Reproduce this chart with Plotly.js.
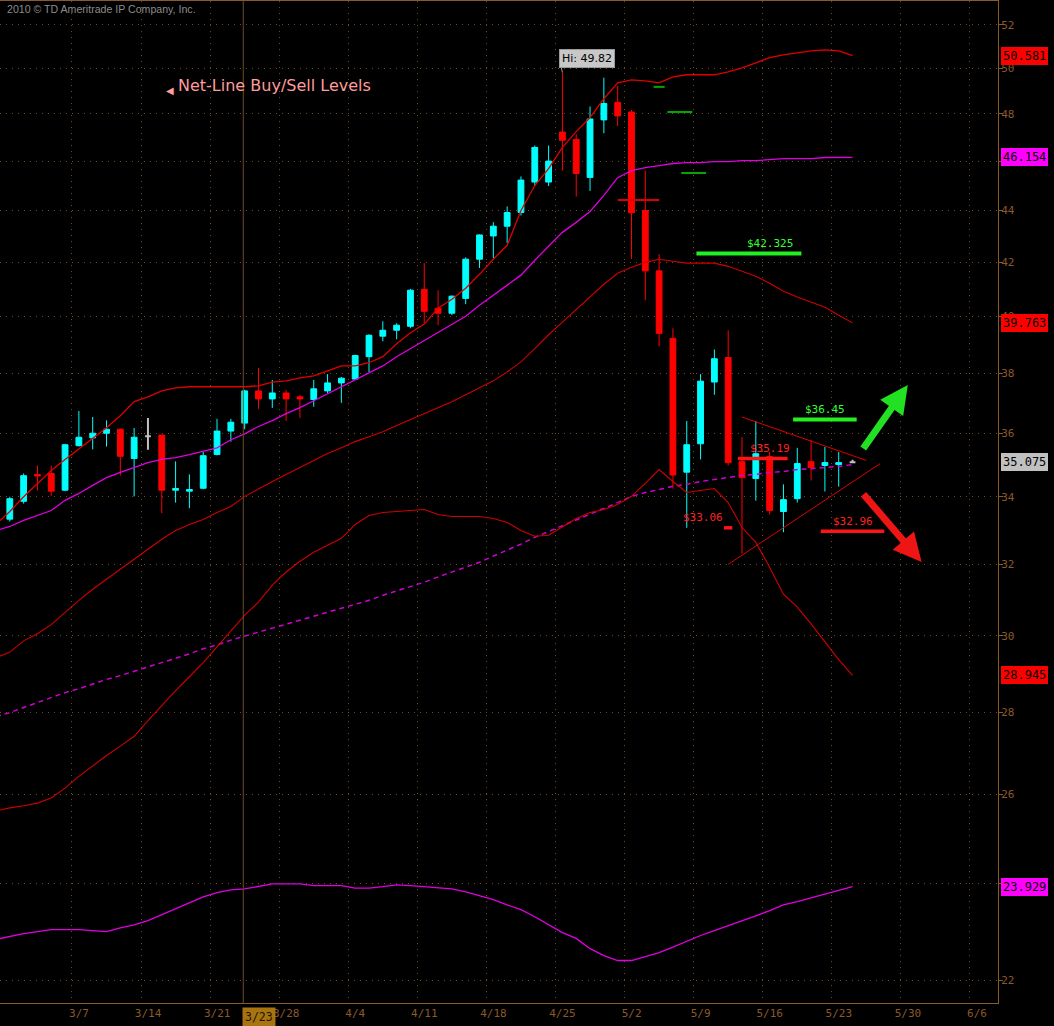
<!DOCTYPE html>
<html><head><meta charset="utf-8">
<script src="https://cdn.plot.ly/plotly-3.0.1.min.js"></script>
<style>html,body{margin:0;padding:0;background:#000;}#chart{width:1054px;height:1026px;}</style>
</head><body><div id="chart"></div>
<script>
// ---------- data ----------
const dates = ['2011-02-28','2011-03-01','2011-03-02','2011-03-03','2011-03-04',
'2011-03-07','2011-03-08','2011-03-09','2011-03-10','2011-03-11',
'2011-03-14','2011-03-15','2011-03-16','2011-03-17','2011-03-18',
'2011-03-21','2011-03-22','2011-03-23','2011-03-24','2011-03-25',
'2011-03-28','2011-03-29','2011-03-30','2011-03-31','2011-04-01',
'2011-04-04','2011-04-05','2011-04-06','2011-04-07','2011-04-08',
'2011-04-11','2011-04-12','2011-04-13','2011-04-14','2011-04-15',
'2011-04-18','2011-04-19','2011-04-20','2011-04-21','2011-04-22',
'2011-04-25','2011-04-26','2011-04-27','2011-04-28','2011-04-29',
'2011-05-02','2011-05-03','2011-05-04','2011-05-05','2011-05-06',
'2011-05-09','2011-05-10','2011-05-11','2011-05-12','2011-05-13',
'2011-05-16','2011-05-17','2011-05-18','2011-05-19','2011-05-20',
'2011-05-23','2011-05-24'];
const open = [33.32,33.86,34.69,34.72,34.2, 35.6,35.85,36.0,36.13,35.19, 35.9,35.94,34.2,34.17,34.26,
35.32,36.07,36.33,37.4,37.13, 37.33,37.2,37.11,37.4,37.67, 37.8,38.57,39.29,39.5,39.64,
40.98,40.29,40.11,40.65,42.11, 43.0,43.38,43.92,45.14,45.14, 47.22,46.91,45.33,47.74,48.5,
48.08,44.0,41.67,39.21,34.76, 35.66,37.7,38.54,35.09,34.56, 35.25,33.55,33.94,35.09,34.97,
35.0,35.075];
const high = [34.0,34.72,34.97,34.97,35.66, 36.73,36.53,36.42,36.15,36.17, 36.5,35.95,35.1,34.69,35.4,
36.47,36.47,37.44,38.18,37.77, 37.43,37.27,37.77,37.97,37.87, 38.64,39.36,39.82,39.75,41.0,
41.96,40.95,40.76,42.18,43.06, 43.54,44.16,45.37,46.65,46.65, 49.82,47.13,48.32,49.59,49.23,
48.17,45.6,42.3,39.57,36.4, 37.97,38.82,39.5,35.87,36.4, 35.4,34.38,35.53,35.78,35.56,
35.4,35.15];
const low = [33.25,33.79,34.19,34.03,34.17, 35.57,35.48,35.57,34.65,34.01, 35.47,33.5,33.82,33.65,34.23,
35.29,35.73,36.13,36.8,36.83, 36.4,36.5,36.87,37.33,37.0, 37.77,38.04,39.11,39.18,39.57,
39.75,39.68,40.04,40.44,41.78, 42.15,42.73,43.8,44.98,44.98, 45.6,44.55,44.78,47.17,47.48,
42.12,40.58,38.93,34.25,33.06, 35.16,37.27,34.97,32.3,33.88, 33.46,32.93,33.82,34.5,34.16,
34.31,35.075];
const close = [33.94,34.65,34.64,34.17,35.63, 35.87,36.0,36.13,35.26,35.87, 35.9,34.2,34.25,34.22,35.28,
36.07,36.36,37.4,37.13,37.33, 37.13,37.13,37.47,37.67,37.83, 38.61,39.32,39.5,39.68,40.95,
40.18,40.11,40.73,42.11,43.04, 43.38,43.92,45.22,46.57,46.0, 46.87,45.49,47.78,48.45,47.91,
43.91,41.67,39.39,34.67,35.63, 37.73,38.5,35.06,34.59,35.34, 33.58,33.91,35.03,34.91,35.06,
35.06,35.075];

// indicator lines: one value per day from 2011-02-25 to 2011-05-24
const lineDates = ['2011-02-25'].concat(dates);
const upperBand = [33.16,33.55,34.0,34.41,34.81,35.16,35.5,35.82,36.18,36.57,37.04,37.2,37.4,37.5,37.54,37.54,37.54,37.54,37.54,37.57,37.7,37.74,37.84,37.91,38.08,38.25,38.25,38.36,38.57,39.02,39.41,39.72,40.29,40.62,41.02,41.54,42.11,42.64,44.0,45.0,45.69,46.57,47.24,47.84,48.66,49.36,49.49,49.45,49.36,49.63,49.72,49.72,49.72,49.85,50.03,50.26,50.49,50.62,50.71,50.8,50.85,50.8,50.581];
const midAvg = [32.98,33.1,33.28,33.43,33.58,33.89,34.1,34.35,34.59,34.75,34.9,35.06,35.16,35.22,35.31,35.41,35.53,35.79,35.98,36.22,36.41,36.64,36.84,37.07,37.3,37.54,37.77,38.0,38.25,38.57,38.85,39.13,39.41,39.69,40.0,40.4,40.77,41.14,41.51,42.07,42.6,43.14,43.53,43.96,44.6,45.32,45.61,45.73,45.81,45.9,45.94,45.94,45.98,45.98,46.02,46.02,46.06,46.1,46.1,46.1,46.15,46.15,46.154];
const lowerBand1 = [29.41,29.56,29.86,30.05,30.3,30.64,30.97,31.28,31.57,31.85,32.14,32.43,32.72,32.98,33.16,33.31,33.52,33.7,34.01,34.25,34.47,34.69,34.91,35.13,35.35,35.53,35.73,35.89,36.05,36.25,36.44,36.64,36.84,37.04,37.27,37.5,37.74,38.04,38.39,38.85,39.34,39.79,40.25,40.73,41.17,41.58,41.81,41.99,42.11,42.03,41.96,41.96,41.96,41.84,41.65,41.47,41.21,40.91,40.7,40.51,40.33,40.04,39.763];
const lowerBand2 = [25.62,25.69,25.74,25.8,25.92,26.15,26.43,26.69,26.93,27.16,27.4,27.79,28.17,28.55,28.91,29.28,29.7,30.13,30.56,30.92,31.4,31.77,32.08,32.34,32.55,32.75,33.16,33.43,33.52,33.55,33.58,33.61,33.46,33.4,33.4,33.4,33.34,33.22,32.98,32.81,32.84,33.1,33.34,33.52,33.61,33.76,34.01,34.41,34.84,34.47,34.13,34.19,34.25,33.82,33.07,32.63,31.91,31.14,30.78,30.32,29.83,29.36,28.945];
const longAvg = [27.89,27.99,28.12,28.25,28.38,28.5,28.6,28.73,28.84,28.94,29.05,29.17,29.28,29.38,29.51,29.65,29.75,29.88,29.99,30.1,30.2,30.31,30.42,30.53,30.64,30.75,30.86,30.97,31.11,31.23,31.37,31.48,31.63,31.77,31.91,32.05,32.23,32.4,32.58,32.78,32.95,33.13,33.31,33.46,33.64,33.82,34.01,34.13,34.22,34.32,34.38,34.47,34.53,34.59,34.66,34.69,34.75,34.78,34.84,34.87,34.9,34.94,35.0];
const lowerAvg = [22.82,22.88,22.94,22.98,23.02,23.02,23.02,23.0,22.98,23.06,23.12,23.21,23.33,23.46,23.58,23.71,23.8,23.86,23.88,23.93,23.99,23.99,23.99,23.95,23.95,23.95,23.9,23.9,23.93,23.97,23.95,23.93,23.9,23.88,23.82,23.73,23.65,23.54,23.44,23.29,23.12,22.96,22.84,22.63,22.49,22.39,22.39,22.47,22.55,22.66,22.78,22.9,23.0,23.1,23.21,23.31,23.42,23.54,23.61,23.69,23.78,23.86,23.929];

// axis ticks
const tickDates = ['2011-03-07','2011-03-14','2011-03-21','2011-03-28','2011-04-04','2011-04-11','2011-04-18','2011-04-25','2011-05-02','2011-05-09','2011-05-16','2011-05-23','2011-05-30','2011-06-06'];
const tickLabels = ['3/7','3/14','3/21','3/28','4/4','4/11','4/18','4/25','5/2','5/9','5/16','5/23','5/30','6/6'];
const priceTicks = [22,24,26,28,30,32,34,36,38,40,42,44,46,48,50,52];
// tick labels hidden under the value tags in the reference
const priceTickText = ['22','','26','28','30','32','34','36','38','40','42','44','','48','50','52'];

// net-line levels
const buyLabels = ['$42.325','$36.45'];
const buyPrices = [42.325, 36.45];
const buyStart = ['2011-05-09','2011-05-18'];
const buyEnd = ['2011-05-18','2011-05-24'];
const buyLabelDates = ['2011-05-16','2011-05-20'];
const sellLabels = ['$35.19','$33.06','$32.96'];
const sellPrices = [35.19, 33.06, 32.96];
const sellStart = ['2011-05-12','2011-05-11','2011-05-20'];
const sellEnd = ['2011-05-17','2011-05-11','2011-05-26'];
const sellLabelDates = ['2011-05-16','2011-05-11','2011-05-24'];
const sellLabelAnchor = ['center','right','center'];
const minorPrices = [49.18, 48.08, 45.51];
const minorStart = ['2011-05-04','2011-05-05','2011-05-06'];
const minorEnd = ['2011-05-04','2011-05-06','2011-05-09'];
const crossPrice = [44.42];
const crossStart = ['2011-04-29'];
const crossEnd = ['2011-05-04'];

// triangle trendlines
const triStart = ['2011-05-12','2011-05-11'];
const triEnd = ['2011-05-25','2011-05-26'];
const triStartPrice = [36.53, 31.99];
const triEndPrice = [35.13, 35.03];

// arrows
const arrowFrom = ['2011-05-25','2011-05-25'];
const arrowTo = ['2011-05-30','2011-05-31'];
const arrowFromPrice = [35.46, 34.12];
const arrowToPrice = [37.6, 32.06];

// right-axis value tags
const tagValues = [50.581, 46.154, 39.763, 35.075, 28.945, 23.929];
const highLabel = 'Hi: 49.82';
const highValue = 49.82;
const highDate = '2011-04-25';
const cursorDate = '2011-03-23';
const cursorLabel = '3/23';

// ---------- helpers ----------
const BASE = Date.UTC(2011, 1, 28);
function tIdx(d) {
  const days = Math.round((Date.parse(d + 'T00:00:00Z') - BASE) / 86400000);
  const w = Math.floor(days / 7);
  const r = days - 7 * w;
  return 5 * w + Math.min(r, 4);
}
const L = Math.log10;

const BROWN = '#8b5a2b';
const GRID = '#6e4c22';
const MONO = 'DejaVu Sans Mono, monospace';

const traces = [];

// candles
const xs = dates.map(tIdx);
const norm = {x: [], open: [], high: [], low: [], close: []};
const doji = {x: [], open: [], high: [], low: [], close: []};
dates.forEach((d, i) => {
  const t = open[i] === close[i] ? doji : norm;
  t.x.push(xs[i]); t.open.push(open[i]); t.high.push(high[i]); t.low.push(low[i]); t.close.push(close[i]);
});
traces.push(Object.assign({type: 'candlestick', whiskerwidth: 0, hoverinfo: 'skip',
  increasing: {line: {color: '#00ffff', width: 1}, fillcolor: '#00ffff'},
  decreasing: {line: {color: '#ff0000', width: 1}, fillcolor: '#ff0000'}}, norm));
traces.push(Object.assign({type: 'candlestick', whiskerwidth: 0, hoverinfo: 'skip',
  increasing: {line: {color: '#c0c0c0', width: 2}, fillcolor: '#c0c0c0'},
  decreasing: {line: {color: '#c0c0c0', width: 2}, fillcolor: '#c0c0c0'}}, doji));

// indicator lines
const lx = lineDates.map(tIdx);
function lineTrace(y, color, width, dash) {
  return {type: 'scatter', mode: 'lines', x: lx, y: y, hoverinfo: 'skip',
    line: {color: color, width: width, dash: dash || 'solid'}};
}
traces.push(lineTrace(lowerAvg, '#e000e0', 1.3));
traces.push(lineTrace(longAvg, '#d000d0', 1.5, '5px,4px'));
traces.push(lineTrace(lowerBand2, '#d00000', 1.1));
traces.push(lineTrace(lowerBand1, '#d00000', 1.1));
traces.push(lineTrace(midAvg, '#e000e0', 1.3));
traces.push(lineTrace(upperBand, '#e00000', 1.3));

// levels
function levelTrace(prices, starts, ends, pad, color, width) {
  const x = [], y = [];
  prices.forEach((p, k) => {
    x.push(tIdx(starts[k]) - pad, tIdx(ends[k]) + pad, null);
    y.push(p, p, null);
  });
  return {type: 'scatter', mode: 'lines', x: x, y: y, hoverinfo: 'skip', line: {color: color, width: width}};
}
traces.push(levelTrace(minorPrices, minorStart, minorEnd, 0.4, '#00a800', 2));
traces.push(levelTrace(crossPrice, crossStart, crossEnd, 0, '#dd0000', 2));
traces.push(levelTrace(buyPrices, buyStart, buyEnd, 0.3, '#22f022', 4));
traces.push(levelTrace(sellPrices, sellStart, sellEnd, 0.3, '#ff1414', 3.5));

// triangle
triStart.forEach((d, k) => {
  traces.push({type: 'scatter', mode: 'lines', hoverinfo: 'skip',
    x: [tIdx(d), tIdx(triEnd[k])], y: [triStartPrice[k], triEndPrice[k]],
    line: {color: '#dd0000', width: 1}});
});

// ---------- annotations ----------
const ann = [];
buyLabels.forEach((t, k) => ann.push({xref: 'x', yref: 'y', x: tIdx(buyLabelDates[k]), y: L(buyPrices[k]),
  text: t, showarrow: false, yshift: 10, font: {family: MONO, size: 11, color: '#33ff33'}}));
sellLabels.forEach((t, k) => ann.push({xref: 'x', yref: 'y',
  x: tIdx(sellLabelDates[k]) - (sellLabelAnchor[k] === 'right' ? 0.2 : 0), y: L(sellPrices[k]),
  xanchor: sellLabelAnchor[k], text: t, showarrow: false, yshift: 10,
  font: {family: MONO, size: 11, color: '#ff2020'}}));

const arrowColors = ['#22e022', '#ee1515'];
arrowFrom.forEach((d, k) => ann.push({xref: 'x', yref: 'y', axref: 'x', ayref: 'y',
  x: tIdx(arrowTo[k]), y: L(arrowToPrice[k]), ax: tIdx(d) - 0.3, ay: L(arrowFromPrice[k]),
  text: '', showarrow: true, arrowhead: 2, arrowsize: 0.8, arrowwidth: 7, arrowcolor: arrowColors[k]}));

ann.push({xref: 'x', yref: 'y', x: tIdx(highDate), y: L(highValue), text: highLabel,
  showarrow: true, arrowhead: 0, arrowwidth: 1, arrowcolor: '#9a9a9a', ax: -3, ay: -14,
  xanchor: 'left', yanchor: 'middle', bgcolor: '#c8c8c8', bordercolor: '#9a9a9a', borderpad: 2,
  font: {family: 'DejaVu Sans, sans-serif', size: 11, color: '#000'}});

const tagColors = ['#ff0000', '#ff00ff', '#ff0000', '#c0c0c0', '#ff0000', '#ff00ff'];
tagValues.forEach((v, k) => ann.push({xref: 'paper', yref: 'y', x: 1.003, y: L(v), xanchor: 'left',
  yanchor: 'middle', text: v.toFixed(3), showarrow: false, bgcolor: tagColors[k], bordercolor: tagColors[k],
  borderpad: 1, font: {family: MONO, size: 12, color: '#000'}}));

ann.push({xref: 'x', yref: 'paper', x: tIdx(cursorDate), y: 0, xanchor: 'left', yanchor: 'top',
  xshift: -3, yshift: -4, text: cursorLabel, showarrow: false, bgcolor: '#a87410', borderpad: 2,
  font: {family: MONO, size: 11.5, color: '#1e1400'}});

ann.push({xref: 'paper', yref: 'paper', x: 0.005, y: 0.992, xanchor: 'left', yanchor: 'middle',
  text: '2010 © TD Ameritrade IP Company, Inc.', showarrow: false,
  font: {family: 'Liberation Sans, sans-serif', size: 10.6, color: '#8c8c8c'}});
ann.push({xref: 'paper', yref: 'paper', x: 0.1764, y: 0.9152, xanchor: 'left', yanchor: 'middle',
  text: 'Net-Line Buy/Sell Levels', showarrow: false,
  font: {family: 'DejaVu Sans, sans-serif', size: 16, color: '#ff9c9c'}});
ann.push({xref: 'paper', yref: 'paper', x: 0.1764, y: 0.911, xanchor: 'right', yanchor: 'middle',
  text: '◀', showarrow: false, font: {family: 'DejaVu Sans, sans-serif', size: 10, color: '#ff9c9c'}});

const layout = {
  width: 1054, height: 1026,
  margin: {l: 0, r: 56, t: 1, b: 23},
  paper_bgcolor: '#000', plot_bgcolor: '#000',
  showlegend: false, boxgap: 0.4,
  xaxis: {
    range: [-0.71, 71.53], rangeslider: {visible: false}, type: 'linear',
    tickvals: tickDates.map(d => tIdx(d) - 0.5), ticktext: tickLabels, ticklabelshift: 7,
    showgrid: true, gridcolor: GRID, griddash: '1px,5px', gridwidth: 1, zeroline: false,
    showline: true, linecolor: BROWN, linewidth: 1, mirror: true, ticks: '',
    tickfont: {family: MONO, size: 11, color: BROWN}
  },
  yaxis: {
    type: 'log', side: 'right', range: [L(21.549), L(53.136)],
    tickvals: priceTicks, ticktext: priceTickText,
    showgrid: true, gridcolor: GRID, griddash: '1px,5px', gridwidth: 1, zeroline: false,
    showline: true, linecolor: BROWN, linewidth: 1, ticks: 'outside', ticklen: 4, tickcolor: BROWN,
    ticklabelstandoff: -4,
    tickfont: {family: MONO, size: 11, color: BROWN}
  },
  shapes: [{type: 'line', xref: 'x', yref: 'paper', x0: tIdx(cursorDate) - 0.1, x1: tIdx(cursorDate) - 0.1,
    y0: 0, y1: 1, line: {color: '#6b5020', width: 1}}],
  annotations: ann
};

Plotly.newPlot('chart', traces, layout, {displayModeBar: false, staticPlot: true});
</script>
</body></html>
